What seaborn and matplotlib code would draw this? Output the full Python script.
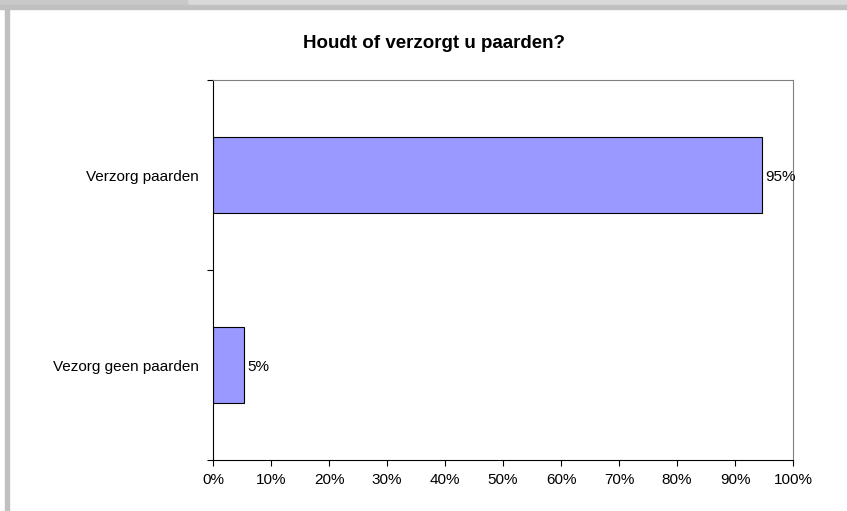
import pandas as pd
import seaborn as sns
import matplotlib.pyplot as plt
from matplotlib.patches import Rectangle
from matplotlib.ticker import PercentFormatter, FixedLocator

categories = ['Verzorg paarden', 'Vezorg geen paarden']
shares = [94.7, 5.3]
value_labels = ['95%', '5%']
x_ticks = list(range(0, 101, 10))

df = pd.DataFrame({'antwoord': categories, 'aandeel': shares})

sns.set_style('white')
plt.rcParams['font.family'] = ['Liberation Sans', 'DejaVu Sans']
plt.rcParams['text.color'] = 'black'
plt.rcParams['xtick.color'] = 'black'
plt.rcParams['ytick.color'] = 'black'

fig = plt.figure(figsize=(8.47, 5.11), dpi=100)
W, H = 847, 511

# grey window frame around the chart
fig.patches.append(Rectangle((0, 1 - 5 / H), 1, 5 / H, transform=fig.transFigure,
                             color='#d9d9d9', zorder=0))
fig.patches.append(Rectangle((0, 1 - 5 / H), 187 / W, 5 / H, transform=fig.transFigure,
                             color='#c8c8c8', zorder=0))
fig.patches.append(Rectangle((0, 1 - 9 / H), 1, 4 / H, transform=fig.transFigure,
                             color='#c0c0c0', zorder=0))
fig.patches.append(Rectangle((5 / W, 0), 4 / W, 1 - 9 / H, transform=fig.transFigure,
                             color='#c0c0c0', zorder=0))

ax = fig.add_axes([213 / W, 1 - 460 / H, 580 / W, 380 / H])
sns.barplot(data=df, y='antwoord', x='aandeel', orient='h', color='#9999ff',
            edgecolor='black', linewidth=0.8, width=0.4, saturation=1, ax=ax)

ax.set_xlim(0, 100)
ax.set_ylim(1.5, -0.5)
ax.xaxis.set_major_locator(FixedLocator(x_ticks))
ax.xaxis.set_major_formatter(PercentFormatter(decimals=0))
ax.set_yticks([0, 1])
ax.set_yticklabels(categories)
ax.set_yticks([-0.5, 0.5, 1.5], minor=True)
ax.tick_params(axis='y', which='major', left=False, length=0, pad=10, labelsize=11)
ax.tick_params(axis='y', which='minor', left=True, direction='out', length=4, width=0.8,
               color='black')
ax.tick_params(axis='x', bottom=True, direction='out', length=4, width=0.8, color='black',
               labelsize=11, pad=5)
ax.set_xlabel('')
ax.set_ylabel('')

for side in ['left', 'bottom']:
    ax.spines[side].set_color('black')
    ax.spines[side].set_linewidth(0.8)
for side in ['top', 'right']:
    ax.spines[side].set_color('#808080')
    ax.spines[side].set_linewidth(0.8)

for i, (v, lab) in enumerate(zip(shares, value_labels)):
    ax.text(v + 0.6, i, lab, va='center_baseline', ha='left', fontsize=11)

fig.text(434 / W, 1 - 43 / H, 'Houdt of verzorgt u paarden?', ha='center', va='center',
         fontsize=13.5, fontweight='bold')

fig.savefig('out.png', dpi=100)
